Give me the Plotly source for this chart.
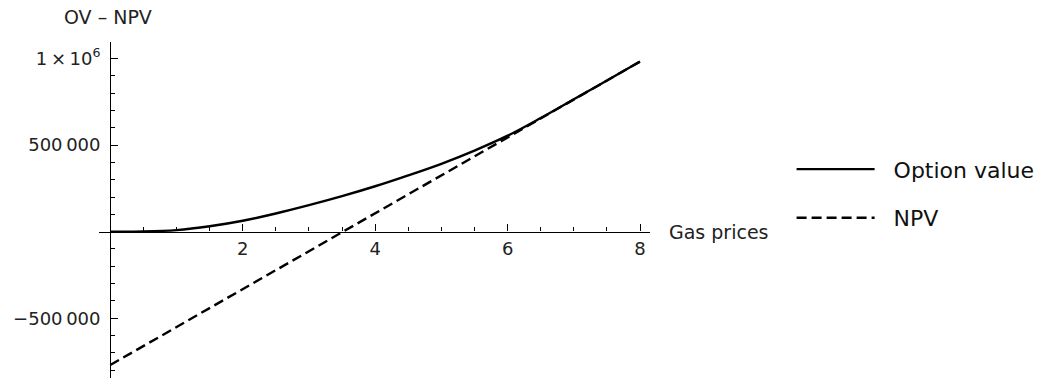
import plotly.graph_objects as go

# Data
gas_price = [0, 0.5, 1.0, 1.5, 2.0, 2.5, 3.0, 3.5, 4.0, 4.5, 5.0, 5.5, 6.0, 6.5, 7.0, 7.5, 8.0]
option_value = [0, 1000, 9000, 31000, 63000, 105000, 153000, 205000, 262000, 325000,
                392000, 468000, 554000, 656000, 764000, 873000, 982000]
npv_price = [0, 8.0]
npv_value = [-770000, 982000]

x_tickvals = [2, 4, 6, 8]
x_ticktext = ["2", "4", "6", "8"]
y_tickvals = [-500000, 500000, 1000000]
y_ticktext = ["\u2212500\u2009000", "500\u2009000", "1\u2009\u00d7\u200910<sup>6</sup>"]

x_range = [-0.17, 8.15]
y_range = [-845000, 1095000]

fig = go.Figure()
fig.add_trace(go.Scatter(x=gas_price, y=option_value, mode="lines",
                         name="\u00a0\u00a0Option value",
                         line=dict(color="black", width=2.4, shape="spline"), legendgroup="a"))
fig.add_trace(go.Scatter(x=npv_price, y=npv_value, mode="lines", name="\u00a0\u00a0NPV",
                         line=dict(color="black", width=2.4, dash="10px,5px"), legendgroup="b"))

FAM = "DejaVu Sans, Liberation Sans, Arial, sans-serif"
font = dict(family=FAM, size=18, color="#222")
font19 = dict(family=FAM, size=19, color="#222")

fig.update_layout(
    width=1045, height=381,
    margin=dict(l=99, r=395, t=42, b=3, autoexpand=False),
    plot_bgcolor="white", paper_bgcolor="white",
    font=font,
    showlegend=True,
    legend=dict(x=1.257, y=0.548, xanchor="left", yanchor="middle",
                font=dict(family=FAM, size=22, color="#111"),
                itemwidth=78, tracegroupgap=17, traceorder="grouped",
                bgcolor="rgba(0,0,0,0)"),
    xaxis=dict(range=x_range, showgrid=False, zeroline=False,
               showline=True, linecolor="black", linewidth=1.3,
               anchor="free", position=(0 - y_range[0]) / (y_range[1] - y_range[0]),
               tickvals=x_tickvals, ticktext=x_ticktext,
               ticks="inside", ticklen=7, tickwidth=1.3, tickcolor="black",
               ticklabelstandoff=1,
               minor=dict(dtick=0.5, tick0=0, ticks="inside", ticklen=4, tickwidth=1, tickcolor="black"),
               tickfont=font),
    yaxis=dict(range=y_range, showgrid=False, zeroline=False,
               showline=True, linecolor="black", linewidth=1.3,
               anchor="free", position=(0 - x_range[0]) / (x_range[1] - x_range[0]),
               tickvals=y_tickvals, ticktext=y_ticktext,
               ticks="inside", ticklen=7, tickwidth=1.3, tickcolor="black",
               ticklabelstandoff=6,
               minor=dict(dtick=100000, tick0=0, ticks="inside", ticklen=4, tickwidth=1, tickcolor="black"),
               tickfont=font),
    annotations=[
        dict(text="Gas prices", xref="paper", yref="y", x=(667 - 99) / 551, y=0,
             xanchor="left", yanchor="middle", showarrow=False, font=font19),
        dict(text="OV \u2013 NPV", xref="paper", yref="paper", x=(108 - 99) / 551, y=1 + 25 / 336,
             xanchor="center", yanchor="middle", showarrow=False, font=font19),
    ],
)

fig.write_html("out.html", config={"displayModeBar": False},
               post_script="document.body.style.margin='0px';")
